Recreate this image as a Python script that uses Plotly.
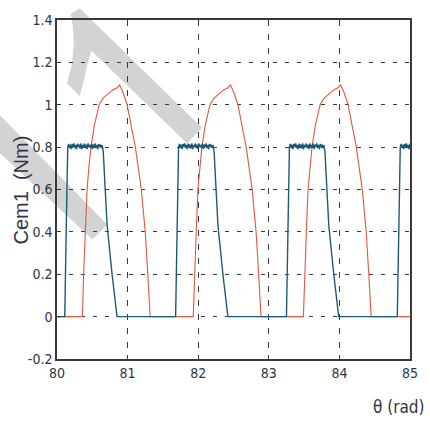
import plotly.graph_objects as go

# ---------------- data ----------------
theta_range = [80, 85]
y_range = [-0.2, 1.4]
x_tick_vals = [80, 81, 82, 83, 84, 85]
x_tick_text = ["80", "81", "82", "83", "84", "85"]
y_tick_vals = [-0.2, 0, 0.2, 0.4, 0.6, 0.8, 1.0, 1.2, 1.4]
y_tick_text = ["-0.2", "0", "0.2", "0.4", "0.6", "0.8", "1", "1.2", "1.4"]

# red curve: one hump per pulse (offset from pulse start in rad, value in Nm)
red_starts = [80.36, 81.93, 83.49]
red_dtheta = [0, 0.017, 0.042, 0.066, 0.095, 0.122, 0.168, 0.237, 0.29, 0.36,
              0.43, 0.49, 0.527, 0.573, 0.633, 0.691, 0.75, 0.834, 0.89, 0.926, 0.96]
red_value = [0, 0.2, 0.4, 0.6, 0.72, 0.8, 0.9, 1.0, 1.03, 1.05,
             1.07, 1.08, 1.093, 1.06, 1.0, 0.9, 0.8, 0.6, 0.4, 0.2, 0]

# blue curve: trapezoid pulses with a rippled top
blue_starts = [80.11, 81.68, 83.25, 84.82]
blue_rise_dtheta = [0, 0.02, 0.042]
blue_rise_value = [0, 0.4, 0.8]
blue_top_begin = 0.042
blue_top_end = 0.53
blue_ripple = [0.80, 0.815, 0.795, 0.812, 0.79, 0.815, 0.80, 0.818, 0.795, 0.81,
               0.79, 0.816, 0.80, 0.812, 0.793, 0.818, 0.79, 0.81, 0.80, 0.817,
               0.795, 0.812, 0.79, 0.818, 0.80, 0.81, 0.795, 0.816, 0.79, 0.812,
               0.80, 0.818, 0.795, 0.81, 0.79, 0.815, 0.80, 0.812, 0.795, 0.81]
blue_fall_dtheta = [0.545, 0.573, 0.6, 0.67, 0.74]
blue_fall_value = [0.78, 0.6, 0.43, 0.2, 0]

# ---------------- build traces ----------------
red_x, red_y = [theta_range[0]], [0]
for s in red_starts:
    red_x += [s + d for d in red_dtheta]
    red_y += red_value
red_x.append(theta_range[1]); red_y.append(0)

blue_x, blue_y = [theta_range[0]], [0]
n_r = len(blue_ripple)
for s in blue_starts:
    blue_x += [s + d for d in blue_rise_dtheta]
    blue_y += blue_rise_value
    step = (blue_top_end - blue_top_begin) / (n_r - 1)
    blue_x += [s + blue_top_begin + i * step for i in range(n_r)]
    blue_y += blue_ripple
    blue_x += [s + d for d in blue_fall_dtheta]
    blue_y += blue_fall_value
blue_x.append(theta_range[1] + 1); blue_y.append(0)

fig = go.Figure()
fig.add_trace(go.Scatter(x=red_x, y=red_y, mode="lines",
                         line=dict(color="#e0593f", width=1.1), hoverinfo="skip"))
fig.add_trace(go.Scatter(x=blue_x, y=blue_y, mode="lines",
                         line=dict(color="#1d5a78", width=1.4), hoverinfo="skip"))

# ---------------- watermark (decoration, pixel -> paper) ----------------
L, R, T, B = 57, 415, 16, 359
def P(px, py):
    return (px - L) / (R - L), (B - py) / (B - T)

def path(points):
    parts = []
    for i, (px, py) in enumerate(points):
        x, y = P(px, py)
        parts.append(("M" if i == 0 else "L") + f"{x:.4f},{y:.4f}")
    return " ".join(parts) + " Z"

arrow = [(80, 4), (204, 125), (189, 141), (92, 47), (88, 60), (85, 74), (80, 93),
         (67, 80), (72, 62), (74, 40), (73, 22), (71, 10)]
band2 = [(-5, 108), (108, 223), (93, 238), (-5, 147)]
for pts in (arrow, band2):
    fig.add_shape(type="path", path=path(pts), xref="paper", yref="paper",
                  fillcolor="#d3d3d3", line=dict(width=0), layer="below")

font_fam = "Liberation Sans Narrow, DejaVu Sans Condensed, Arial, sans-serif"
axis_common = dict(showline=True, mirror=True, linecolor="#3a3a3a", linewidth=1.5,
                   ticks="inside", ticklen=4, tickcolor="#3a3a3a",
                   showgrid=True, gridcolor="#3a3a3a", gridwidth=1,
                   zeroline=False, tickfont=dict(family=font_fam, size=14, color="#2f3446"))

fig.update_xaxes(range=theta_range, tickvals=x_tick_vals, ticktext=x_tick_text,
                 griddash="6px,8px", **axis_common)
fig.update_yaxes(range=y_range, tickvals=y_tick_vals, ticktext=y_tick_text,
                 griddash="4px,8px", **axis_common)

fig.add_annotation(text="θ (rad)", xref="paper", yref="paper",
                   x=P(404, 0)[0], y=P(0, 408)[1], showarrow=False,
                   xanchor="center", yanchor="middle",
                   font=dict(family=font_fam, size=17, color="#2f3446"))
fig.add_annotation(text="Cem1\u00a0\u00a0(Nm)", xref="paper", yref="paper",
                   x=P(20, 0)[0], y=P(0, 188)[1], showarrow=False, textangle=-90,
                   xanchor="center", yanchor="middle",
                   font=dict(family="Liberation Sans, Arial, sans-serif", size=20, color="#2f3446"))

fig.update_layout(width=430, height=421, showlegend=False,
                  margin=dict(l=L, r=430 - R, t=T, b=421 - B),
                  paper_bgcolor="white", plot_bgcolor="rgba(0,0,0,0)")

fig.write_html("out.html")
